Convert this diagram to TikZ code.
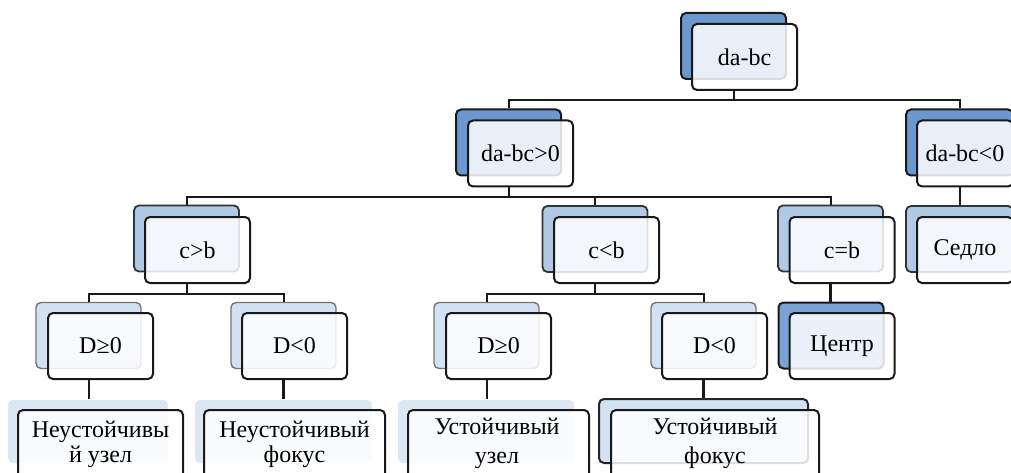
\documentclass[tikz,border=0pt]{standalone}
\usepackage{fontspec}
\setmainfont{Liberation Serif}
\definecolor{dkblue}{HTML}{6C98D0}
\definecolor{midblue}{HTML}{B0CAE6}
\definecolor{ltblue}{HTML}{D3E2F2}
\definecolor{lfblue}{HTML}{DCE7F4}
\newcommand\nodefont{\fontsize{24}{26}\selectfont}
\newcommand\leafA{\fontsize{24}{25}\selectfont}
\newcommand\leafB{\fontsize{24}{29}\selectfont}
\begin{document}
\begin{tikzpicture}[x=1pt,y=-1pt,
  box/.style={rounded corners=5pt, line width=2pt, inner sep=0pt, minimum width=105pt, minimum height=66pt},
  front/.style={box, draw=black!90, fill=white, fill opacity=0.85, text opacity=1, font=\nodefont},
  backdark/.style={box, draw=black!90, fill=dkblue},
  backmid/.style={box, draw=black!80, line width=1.8pt, fill=midblue},
  backlt/.style={box, draw=black!55, line width=1.4pt, fill=ltblue},
  backleaf/.style={box, draw=none, fill=lfblue},
  conn/.style={line width=2pt, draw=black!90},
  leaftxt/.style={align=center, inner sep=0pt}]
\clip (0,0) rectangle (1011,473);
% back boxes
\node[backdark] (rootb) at (733.5,46) {};
\node[backdark] (pb) at (508.5,142.5) {};
\node[backdark, minimum width=107pt] (nb) at (959.5,142.5) {};
\node[backmid] (cgtb) at (186.5,238.5) {};
\node[backmid] (cltb) at (595,239) {};
\node[backmid] (ceqb) at (830.5,238.5) {};
\node[backmid, minimum width=107pt] (saddleb) at (959.5,239) {};
\node[backlt] (d1b) at (88.5,335.5) {};
\node[backlt] (d2b) at (283.5,335.5) {};
\node[backlt] (d3b) at (486.5,335.5) {};
\node[backlt] (d4b) at (703.5,335.5) {};
\node[backdark, fill=dkblue!90] (cenb) at (831,335.5) {};
\node[backleaf, minimum width=160pt, minimum height=63pt] (L1b) at (88,431.5) {};
\node[backleaf, minimum width=177pt, minimum height=63pt] (L2b) at (283.5,431.5) {};
\node[backleaf, minimum width=176pt, minimum height=63pt] (L3b) at (486,431.5) {};
\node[backlt, draw=black!85, line width=2pt, minimum width=209pt, minimum height=64pt] (L4b) at (703.5,431) {};
% front boxes
\node[front] (root) at (744.5,57) {da-bc};
\node[front] (p) at (520.5,153.5) {da-bc>0};
\node[front, minimum width=96pt] (n) at (965,153.5) {da-bc<0};
\node[front] (cgt) at (197.5,250) {c>b};
\node[front] (clt) at (606.5,250) {c<b};
\node[front] (ceq) at (842,250) {c=b};
\node[front, minimum width=96pt] (saddle) at (965,250) {Седло};
\node[front] (d1) at (100.5,346) {D≥0};
\node[front] (d2) at (294.5,346) {D<0};
\node[front] (d3) at (498.5,346) {D≥0};
\node[front] (d4) at (714.5,346) {D<0};
\node[front] (cen) at (842,346) {Центр};
\node[front, minimum width=165pt, minimum height=75pt] (L1) at (100.5,447.5) {};
\node[front, minimum width=181pt, minimum height=75pt] (L2) at (294.5,447.5) {};
\node[front, minimum width=181pt, minimum height=75pt] (L3) at (498.5,447.5) {};
\node[front, minimum width=208pt, minimum height=75pt] (L4) at (715,447.5) {};
\node[leaftxt, font=\leafA] (L1t) at (100.5,444) {Неустойчивы\\й узел};
\node[leaftxt, font=\leafA] (L2t) at (294.5,444) {Неустойчивый\\фокус};
\node[leaftxt, font=\leafB] (L3t) at (497,443) {Устойчивый\\узел};
\node[leaftxt, font=\leafB] (L4t) at (715,443) {Устойчивый\\фокус};
% connectors
\draw[conn] (rootb.south |- root.south) -- ++(0,9) -| (pb.north);
\draw[conn] (rootb.south |- root.south) -- ++(0,9) -| (nb.north);
\draw[conn] (pb.south |- p.south) -- ++(0,9) -| (cgtb.north);
\draw[conn] (pb.south |- p.south) -- ++(0,9) -| (cltb.north);
\draw[conn] (pb.south |- p.south) -- ++(0,9) -| (ceqb.north);
\draw[conn] (nb.south |- n.south) -- (saddleb.north);
\draw[conn] (cgtb.south |- cgt.south) -- ++(0,10) -| (d1b.north);
\draw[conn] (cgtb.south |- cgt.south) -- ++(0,10) -| (d2b.north);
\draw[conn] (cltb.south |- clt.south) -- ++(0,10) -| (d3b.north);
\draw[conn] (cltb.south |- clt.south) -- ++(0,10) -| (d4b.north);
\draw[conn, line width=2.6pt] (ceqb.south |- ceq.south) -- (ceqb.south |- cenb.north);
\draw[conn] (d1b.south |- d1.south) -- (d1b.south |- L1b.north);
\draw[conn, line width=2.6pt] (d2b.south |- d2.south) -- (d2b.south |- L2b.north);
\draw[conn] (d3b.south |- d3.south) -- (d3b.south |- L3b.north);
\draw[conn, line width=2.6pt] (d4b.south |- d4.south) -- (d4b.south |- L4b.north);
\end{tikzpicture}
\end{document}
